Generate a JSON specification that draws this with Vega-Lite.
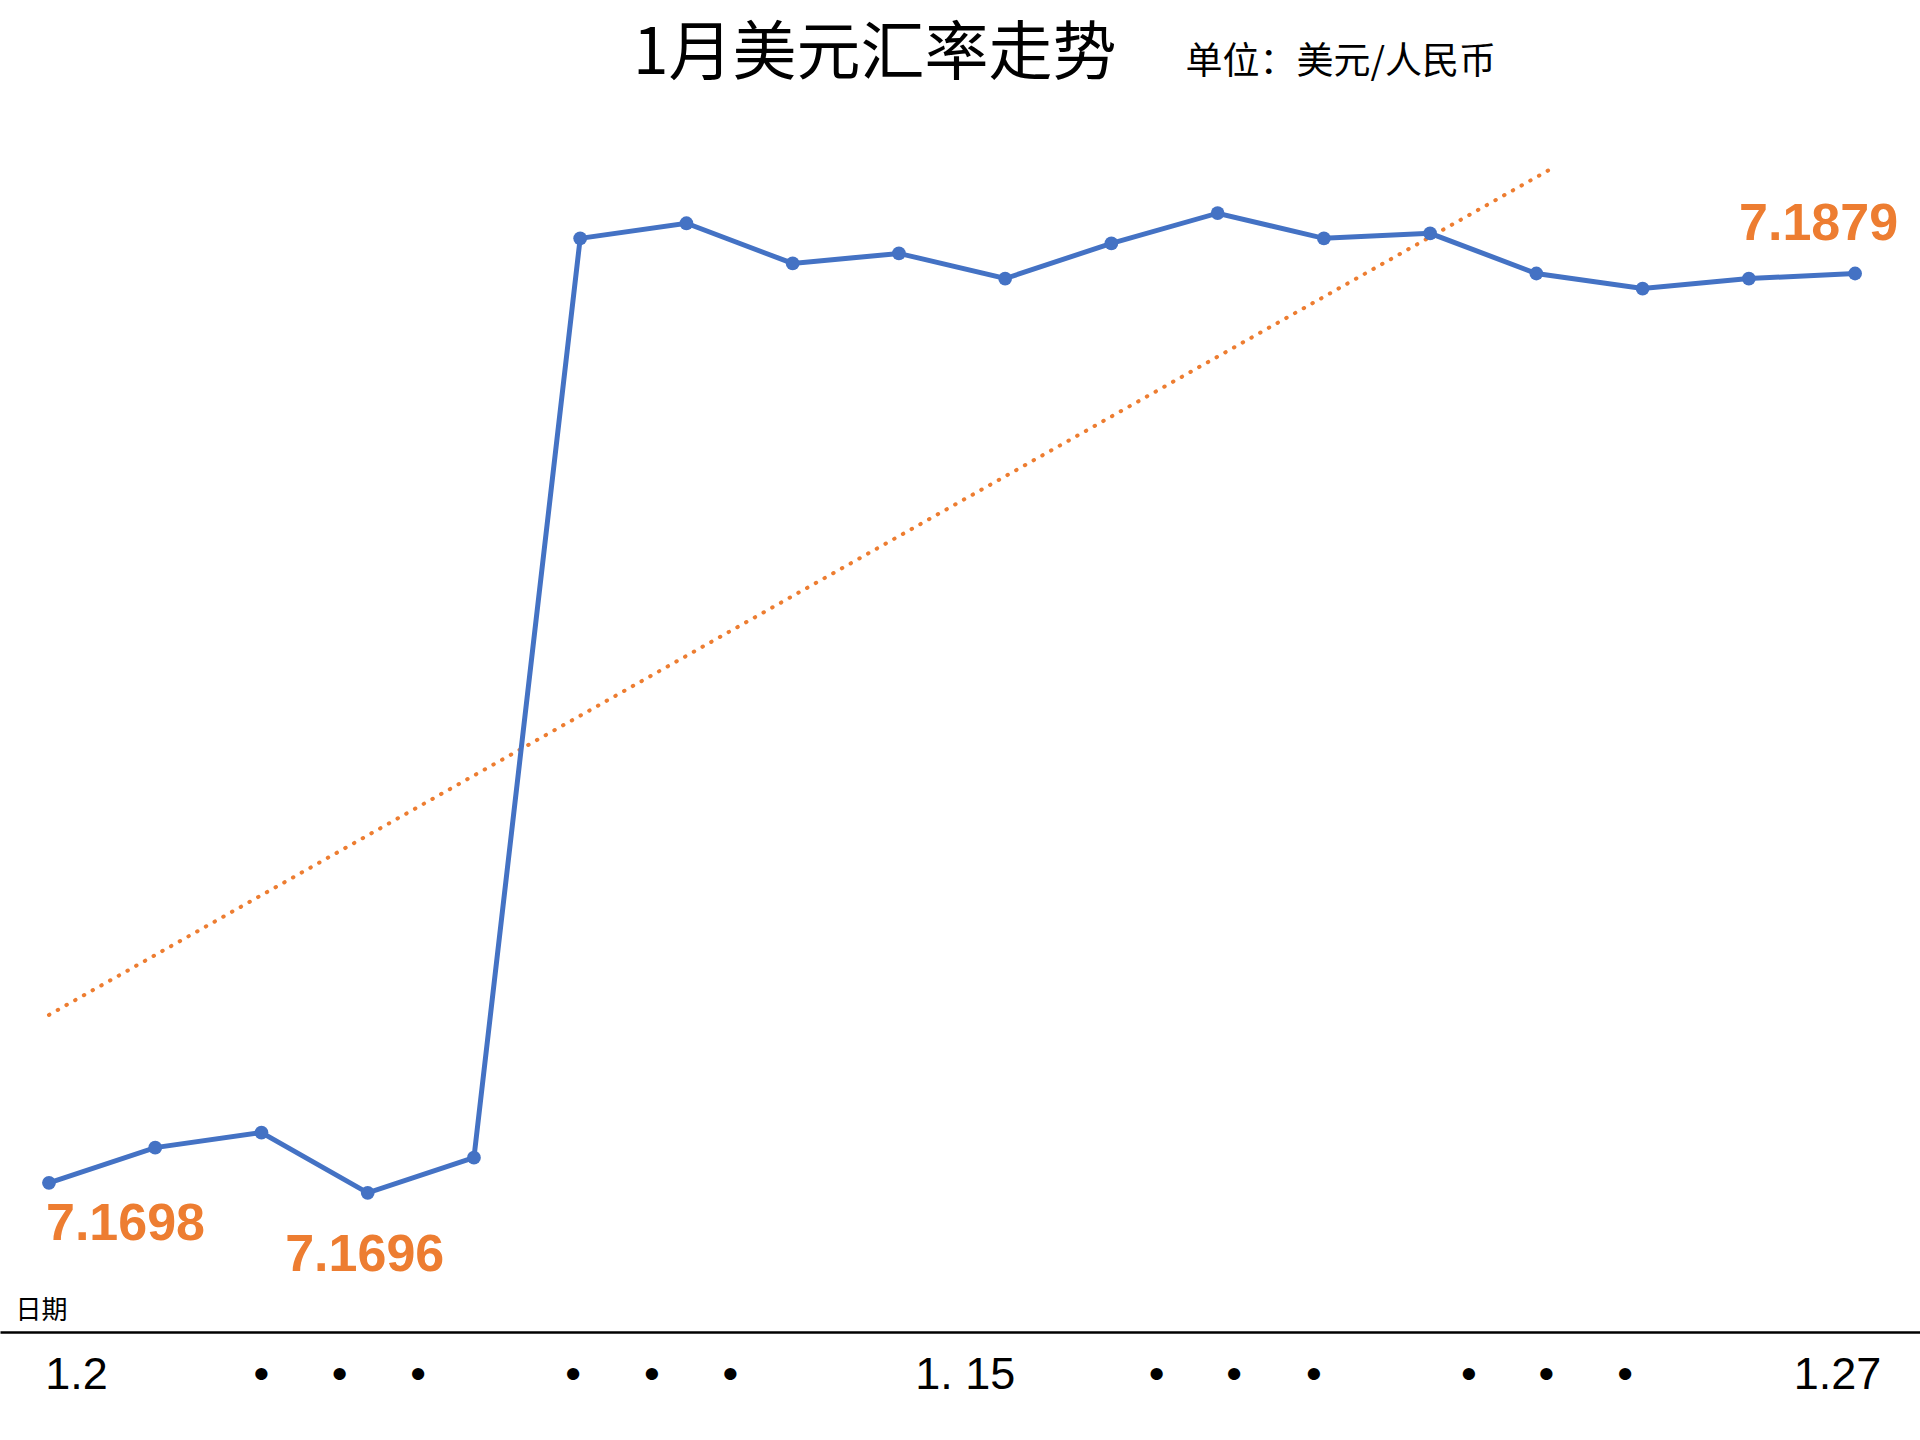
{
  "$schema": "https://vega.github.io/schema/vega-lite/v6.json",
  "width": 1920,
  "height": 1164,
  "autosize": "none",
  "padding": {"top": 168, "left": 0, "right": 0, "bottom": 108},
  "background": "white",
  "config": {"view": {"stroke": null}, "font": "Liberation Sans"},
  "title": {
    "text": "1月美元汇率走势",
    "anchor": "start",
    "frame": "group",
    "dx": 633,
    "dy": 95,
    "font": "Noto Sans CJK SC",
    "fontSize": 64,
    "fontWeight": "normal",
    "color": "black",
    "baseline": "alphabetic",
    "offset": 0
  },
  "data": {
    "values": [
      {"idx": 1, "rate": 7.1698},
      {"idx": 2, "rate": 7.1705},
      {"idx": 3, "rate": 7.1708},
      {"idx": 4, "rate": 7.1696},
      {"idx": 5, "rate": 7.1703},
      {"idx": 6, "rate": 7.1886},
      {"idx": 7, "rate": 7.1889},
      {"idx": 8, "rate": 7.1881},
      {"idx": 9, "rate": 7.1883},
      {"idx": 10, "rate": 7.1878},
      {"idx": 11, "rate": 7.1885},
      {"idx": 12, "rate": 7.1891},
      {"idx": 13, "rate": 7.1886},
      {"idx": 14, "rate": 7.1887},
      {"idx": 15, "rate": 7.1879},
      {"idx": 16, "rate": 7.1876},
      {"idx": 17, "rate": 7.1878},
      {"idx": 18, "rate": 7.1879}
    ]
  },
  "encoding": {
    "x": {
      "field": "idx",
      "type": "quantitative",
      "scale": {"domain": [0.539, 18.611], "nice": false, "zero": false},
      "axis": {
        "title": "日期",
        "titleX": 15,
        "titleY": -14,
        "titleAlign": "left",
        "titleBaseline": "alphabetic",
        "titleFont": "Noto Sans CJK SC",
        "titleFontSize": 26,
        "titleFontWeight": "normal",
        "titleColor": "black",
        "values": [1.254, 2.995, 3.73, 4.47, 5.93, 6.67, 7.41, 9.62, 11.42, 12.15, 12.9, 14.36, 15.09, 15.83, 17.83],
        "labelExpr": "datum.value < 2 ? '1.2' : (datum.value > 9 && datum.value < 10) ? '1. 15' : datum.value > 17 ? '1.27' : '•'",
        "labelFontSize": 45,
        "labelColor": "black",
        "labelBaseline": "alphabetic",
        "labelPadding": 56,
        "labelFlush": false,
        "labelOverlap": false,
        "labelBound": false,
        "ticks": false,
        "grid": false,
        "domainColor": "black",
        "domainWidth": 2.5
      }
    },
    "y": {
      "field": "rate",
      "type": "quantitative",
      "scale": {"domain": [7.16683, 7.19], "nice": false, "zero": false},
      "axis": {
        "title": "单位：美元/人民币",
        "titleAngle": 0,
        "titleX": 1185,
        "titleY": -95,
        "titleAlign": "left",
        "titleBaseline": "alphabetic",
        "titleFont": "Noto Sans CJK SC",
        "titleFontSize": 37,
        "titleFontWeight": "normal",
        "titleColor": "black",
        "labels": false,
        "ticks": false,
        "domain": false,
        "grid": false
      }
    }
  },
  "layer": [
    {
      "transform": [{"regression": "rate", "on": "idx", "extent": [1, 18]}],
      "mark": {"type": "line", "color": "#ED7D31", "strokeWidth": 4, "strokeDash": [0.5, 9.5], "strokeCap": "round", "clip": true}
    },
    {
      "mark": {"type": "line", "color": "#4472C4", "strokeWidth": 5, "point": {"filled": true, "size": 190, "color": "#4472C4"}}
    },
    {
      "transform": [{"filter": "datum.idx == 1"}],
      "mark": {"type": "text", "align": "left", "baseline": "alphabetic", "dx": -3, "dy": 57, "fontSize": 52, "fontWeight": "bold", "color": "#ED7D31"},
      "encoding": {"text": {"field": "rate", "type": "quantitative", "format": ".4f"}}
    },
    {
      "transform": [{"filter": "datum.idx == 4"}],
      "mark": {"type": "text", "align": "center", "baseline": "alphabetic", "dx": -3, "dy": 78, "fontSize": 52, "fontWeight": "bold", "color": "#ED7D31"},
      "encoding": {"text": {"field": "rate", "type": "quantitative", "format": ".4f"}}
    },
    {
      "transform": [{"filter": "datum.idx == 18"}],
      "mark": {"type": "text", "align": "right", "baseline": "alphabetic", "dx": 43, "dy": -33, "fontSize": 52, "fontWeight": "bold", "color": "#ED7D31"},
      "encoding": {"text": {"field": "rate", "type": "quantitative", "format": ".4f"}}
    }
  ]
}
